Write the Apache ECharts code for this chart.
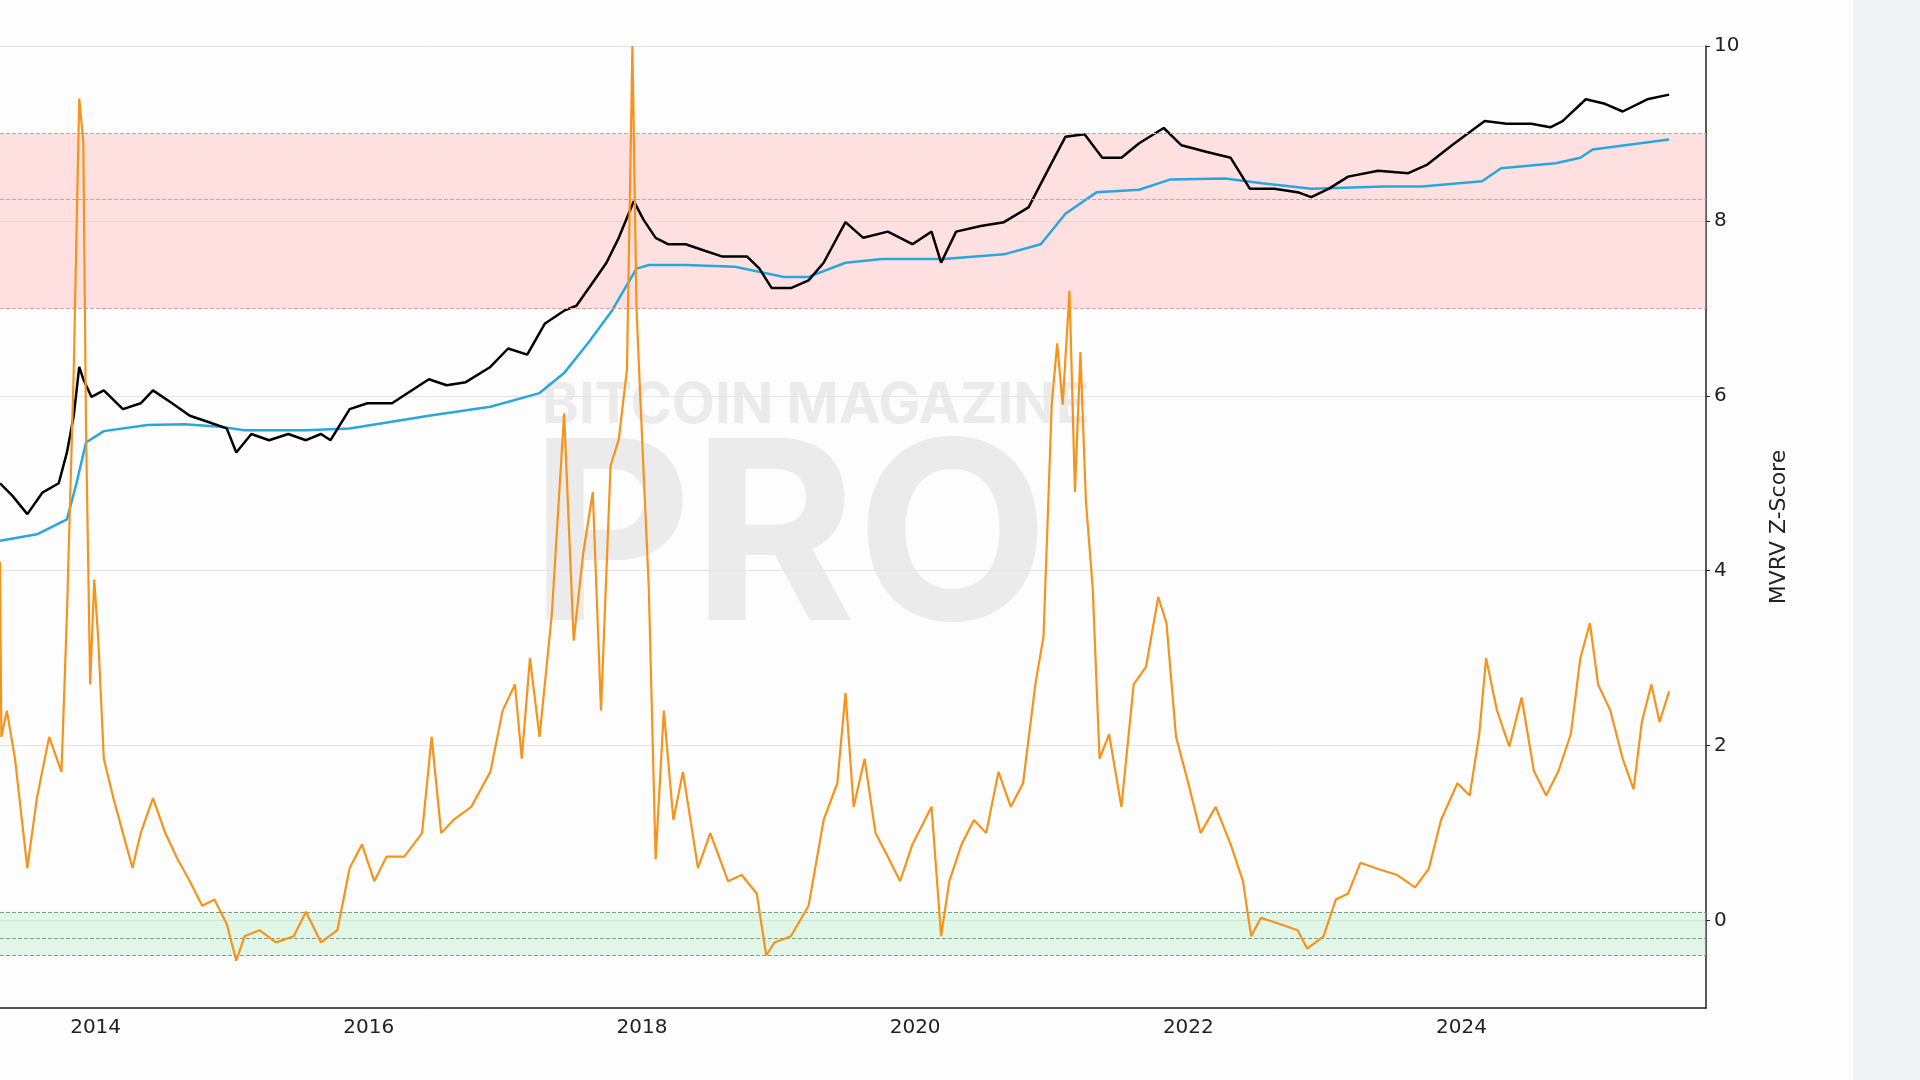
<!DOCTYPE html>
<html><head><meta charset="utf-8">
<script src="https://cdn.jsdelivr.net/npm/echarts@6/dist/echarts.min.js"></script>
<style>html,body{margin:0;padding:0;background:#fdfdfd;}#c{width:1920px;height:1080px;}
#strip{position:absolute;left:1853px;top:0;width:67px;height:1080px;background:#f1f2f4;z-index:5;}</style>
</head><body><div id="c"></div><div id="strip"></div>
<script>
const zScore = [[2013.30,4.1],[2013.31,2.1],[2013.35,2.4],[2013.41,1.85],[2013.50,0.6],[2013.57,1.4],[2013.66,2.1],[2013.75,1.7],[2013.79,3.5],[2013.84,6.3],[2013.88,9.4],[2013.91,8.9],[2013.93,5.6],[2013.96,2.7],[2013.99,3.9],[2014.02,3.2],[2014.06,1.85],[2014.13,1.4],[2014.20,1.0],[2014.27,0.6],[2014.33,1.0],[2014.42,1.4],[2014.51,1.0],[2014.60,0.7],[2014.69,0.45],[2014.78,0.17],[2014.87,0.24],[2014.96,-0.04],[2015.03,-0.46],[2015.09,-0.18],[2015.20,-0.11],[2015.32,-0.25],[2015.45,-0.18],[2015.54,0.1],[2015.65,-0.25],[2015.77,-0.11],[2015.86,0.6],[2015.95,0.87],[2016.04,0.45],[2016.13,0.73],[2016.26,0.73],[2016.39,1.0],[2016.46,2.1],[2016.53,1.0],[2016.62,1.15],[2016.75,1.3],[2016.89,1.7],[2016.98,2.4],[2017.07,2.7],[2017.12,1.85],[2017.18,3.0],[2017.25,2.1],[2017.34,3.5],[2017.43,5.8],[2017.50,3.2],[2017.57,4.2],[2017.64,4.9],[2017.70,2.4],[2017.77,5.2],[2017.83,5.5],[2017.89,6.3],[2017.93,10.0],[2017.96,7.0],[2017.99,5.9],[2018.05,3.8],[2018.10,0.7],[2018.16,2.4],[2018.23,1.15],[2018.30,1.7],[2018.41,0.6],[2018.50,1.0],[2018.63,0.45],[2018.73,0.52],[2018.84,0.31],[2018.91,-0.4],[2018.97,-0.25],[2019.09,-0.18],[2019.22,0.17],[2019.33,1.15],[2019.43,1.57],[2019.49,2.6],[2019.55,1.3],[2019.63,1.85],[2019.71,1.0],[2019.80,0.73],[2019.89,0.45],[2019.98,0.87],[2020.12,1.3],[2020.19,-0.18],[2020.25,0.45],[2020.34,0.87],[2020.43,1.15],[2020.52,1.0],[2020.61,1.7],[2020.70,1.3],[2020.79,1.57],[2020.88,2.7],[2020.94,3.25],[2021.00,5.9],[2021.04,6.6],[2021.08,5.9],[2021.13,7.2],[2021.17,4.9],[2021.21,6.5],[2021.25,4.8],[2021.30,3.8],[2021.35,1.85],[2021.42,2.13],[2021.51,1.3],[2021.60,2.7],[2021.69,2.9],[2021.78,3.7],[2021.84,3.4],[2021.91,2.1],[2022.00,1.57],[2022.09,1.0],[2022.20,1.3],[2022.31,0.87],[2022.40,0.45],[2022.46,-0.18],[2022.53,0.03],[2022.67,-0.04],[2022.80,-0.11],[2022.87,-0.32],[2022.99,-0.18],[2023.08,0.24],[2023.17,0.31],[2023.26,0.66],[2023.39,0.59],[2023.53,0.52],[2023.66,0.38],[2023.76,0.59],[2023.85,1.15],[2023.97,1.57],[2024.06,1.43],[2024.13,2.13],[2024.18,3.0],[2024.26,2.4],[2024.35,1.99],[2024.44,2.55],[2024.53,1.71],[2024.62,1.43],[2024.71,1.71],[2024.80,2.13],[2024.87,3.0],[2024.94,3.4],[2025.00,2.7],[2025.09,2.4],[2025.18,1.85],[2025.26,1.5],[2025.32,2.27],[2025.39,2.7],[2025.45,2.27],[2025.52,2.62]];
const price = [[2013.30,114],[2013.39,91],[2013.50,65],[2013.61,96],[2013.73,114],[2013.79,200],[2013.84,390],[2013.88,950],[2013.91,760],[2013.97,550],[2014.06,620],[2014.20,440],[2014.33,490],[2014.42,620],[2014.56,490],[2014.69,390],[2014.82,350],[2014.96,310],[2015.03,200],[2015.14,280],[2015.27,250],[2015.41,280],[2015.54,250],[2015.65,280],[2015.72,250],[2015.86,440],[2015.99,490],[2016.17,490],[2016.44,760],[2016.57,680],[2016.71,720],[2016.89,950],[2017.02,1330],[2017.16,1190],[2017.29,2100],[2017.43,2650],[2017.52,2900],[2017.65,4600],[2017.74,6350],[2017.83,10000],[2017.94,19500],[2018.01,14000],[2018.10,10000],[2018.19,8900],[2018.32,8900],[2018.46,7900],[2018.59,7100],[2018.77,7100],[2018.86,5700],[2018.95,4000],[2019.09,4000],[2019.22,4600],[2019.33,6350],[2019.49,13300],[2019.62,10000],[2019.80,11200],[2019.98,8900],[2020.12,11200],[2020.19,6350],[2020.30,11200],[2020.48,12400],[2020.65,13300],[2020.83,17400],[2020.97,34000],[2021.10,63000],[2021.24,66000],[2021.37,43000],[2021.51,43000],[2021.64,56000],[2021.82,74000],[2021.95,54000],[2022.13,48000],[2022.31,43000],[2022.45,24500],[2022.63,24500],[2022.81,22800],[2022.90,21000],[2023.03,24500],[2023.17,30500],[2023.39,34000],[2023.61,32500],[2023.75,38000],[2023.93,54000],[2024.17,84000],[2024.33,80000],[2024.51,80000],[2024.65,75000],[2024.74,84000],[2024.91,125000],[2025.05,115000],[2025.18,100000],[2025.36,125000],[2025.52,136000]];
const realized = [[2013.30,40],[2013.57,45],[2013.79,59],[2013.86,114],[2013.93,240],[2014.06,295],[2014.38,330],[2014.65,335],[2014.91,320],[2015.09,300],[2015.54,300],[2015.86,310],[2016.44,390],[2016.89,460],[2017.25,590],[2017.43,850],[2017.61,1490],[2017.78,2650],[2017.96,5700],[2018.05,6100],[2018.32,6100],[2018.68,5900],[2019.04,4900],[2019.22,4900],[2019.49,6350],[2019.76,6800],[2020.21,6800],[2020.65,7400],[2020.92,8900],[2021.10,15500],[2021.33,23000],[2021.64,24000],[2021.87,29000],[2022.27,29500],[2022.54,27000],[2022.90,24500],[2023.43,25500],[2023.71,25500],[2024.15,28000],[2024.29,35500],[2024.69,39000],[2024.87,43000],[2024.96,50000],[2025.52,60000]];

const chart = echarts.init(document.getElementById('c'));
const dash = c => ({lineStyle:{type:'dashed',color:c,width:1}});
chart.setOption({
  animation:false,
  backgroundColor:'#fdfdfd',
  grid:{left:0,right:214,top:46,bottom:72},
  graphic:[
    {type:'text',left:542,top:378,z:0,style:{text:'BITCOIN MAGAZINE',fontSize:56,fontWeight:'bold',fill:'#ebebeb',fontFamily:'Inter'}},
    {type:'text',left:530,top:420,z:0,style:{text:'PRO',fontSize:250,fontWeight:'bold',fill:'#ebebeb',fontFamily:'Inter'}}
  ],
  xAxis:{type:'value',min:2013.3,max:2025.79,splitNumber:6,
    axisLine:{show:true,onZero:false,lineStyle:{color:'#222',width:1.5}},axisTick:{show:false},splitLine:{show:false},
    axisLabel:{showMinLabel:false,showMaxLabel:false,color:'#222',fontSize:20,fontFamily:'DejaVu Sans',margin:10,formatter:v=>String(v)}},
  yAxis:[
    {type:'value',position:'right',min:-1,max:10,splitNumber:5,name:'MVRV Z-Score',nameLocation:'middle',nameRotate:90,nameGap:62,
     nameTextStyle:{color:'#222',fontSize:22,fontFamily:'DejaVu Sans'},
     axisLine:{show:true,lineStyle:{color:'#222',width:1.5}},axisTick:{show:true,length:4,lineStyle:{color:'#222'}},
     axisLabel:{showMinLabel:false,color:'#222',fontSize:20,fontFamily:'DejaVu Sans',margin:8},
     splitLine:{lineStyle:{color:'#e4e4e4'}}},
    {type:'log',min:0.008,max:330000,show:false,splitLine:{show:false}}
  ],
  series:[
    {type:'line',yAxisIndex:0,data:[],silent:true,
     markArea:{silent:true,data:[
       [{yAxis:7,itemStyle:{color:'rgba(255,180,180,0.4)'}},{yAxis:9}],
       [{yAxis:-0.4,itemStyle:{color:'rgba(170,235,190,0.35)'}},{yAxis:0.1}]]},
     markLine:{silent:true,symbol:'none',label:{show:false},data:[
       {yAxis:9,...dash('#e89a9a')},{yAxis:8.25,...dash('#e89a9a')},{yAxis:7,...dash('#e89a9a')},
       {yAxis:0.1,...dash('#8a9a8a')},{yAxis:-0.2,...dash('#8a9a8a')},{yAxis:-0.4,...dash('#8a9a8a')}]}},
    {type:'line',yAxisIndex:1,data:realized,showSymbol:false,lineStyle:{color:'#2aa6df',width:2.5},z:3},
    {type:'line',yAxisIndex:1,data:price,showSymbol:false,lineStyle:{color:'#000',width:2.5},z:4},
    {type:'line',yAxisIndex:0,data:zScore,showSymbol:false,lineStyle:{color:'#f7931a',width:2.2},z:5}
  ]
});
</script></body></html>
